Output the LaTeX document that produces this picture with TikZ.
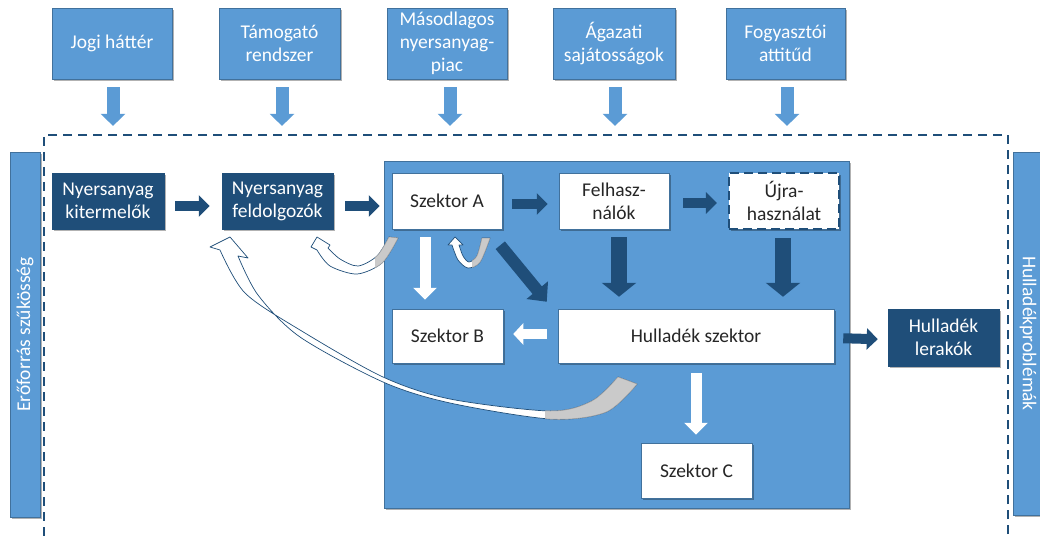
\documentclass[tikz,border=0pt]{standalone}
\usepackage{fontspec}
\setmainfont{Carlito}
\usetikzlibrary{arrows.meta,shadows}
\definecolor{midblue}{HTML}{5B9BD5}
\definecolor{edgeblue}{HTML}{41719C}
\definecolor{navy}{HTML}{1F4E79}
\definecolor{ribgray}{HTML}{CACACA}
\definecolor{txt}{HTML}{262626}
\begin{document}
\begin{tikzpicture}[x=1pt,y=-1pt,
  every node/.style={font=\fontsize{19.5}{23}\selectfont, align=center, inner sep=0pt},
  shad/.style={drop shadow={shadow xshift=2pt,shadow yshift=-2pt,opacity=0.3,fill=black}},
  topbox/.style={fill=midblue, draw=edgeblue, line width=0.8pt, text=white, minimum height=71, shad},
  darkbox/.style={fill=navy, draw=navy, line width=0.5pt, text=white, minimum width=111, minimum height=56, shad},
  whitebox/.style={fill=white, draw=edgeblue, line width=0.5pt, text=txt, minimum width=110, minimum height=55, shad},
  sidebar/.style={fill=midblue, draw=edgeblue, line width=0.6pt, text=white, minimum height=30, shad},
  frame/.style={draw=navy, line width=2.2pt, dash pattern=on 9pt off 6pt},
  toparr/.style={draw=midblue, line width=13pt, -{Triangle[width=24pt,length=12pt]}},
  darr/.style={draw=navy, line width=10pt, -{Triangle[width=21pt,length=11pt]}},
  vdarr/.style={draw=navy, line width=16pt, -{Triangle[width=34pt,length=14pt]}},
  warr/.style={draw=white, line width=11pt, -{Triangle[width=23pt,length=12pt]}},
  ribbon/.style={fill=white, draw=navy, line width=0.7pt, line join=round},
  ribback/.style={fill=ribgray, draw=gray!70, line width=0.5pt, line join=round}
]
\path[use as bounding box] (0,0) rectangle (1040,537);
\clip (0,0) rectangle (1040,537);

% dashed frame
\node[frame, minimum width=964, minimum height=440] (frame) at (526,355) {};

% side bars
\node[sidebar, minimum width=365, rotate=90] (eroforras) at (25,334.5) {Erőforrás szűkösség};
\node[sidebar, minimum width=363, rotate=-90] (hullprob) at (1028,333.5) {Hulladékproblémák};

% top boxes
\node[topbox, minimum width=120] (jogi) at (112,43.5) {Jogi háttér};
\node[topbox, minimum width=121] (tam) at (279.5,43.5) {Támogató\\rendszer};
\node[topbox, minimum width=120] (mas) at (447,43.5) {Másodlagos\\nyersanyag-\\piac};
\node[topbox, minimum width=122] (agaz) at (614,43.5) {Ágazati\\sajátosságok};
\node[topbox, minimum width=119] (fogy) at (785.5,43.5) {Fogyasztói\\attitűd};

% top arrows
\draw[toparr, shorten <=8, shorten >=8] ([shift={(1,0)}]jogi.south) -- ([shift={(1,0)}]jogi.south |- frame.north);
\draw[toparr, shorten <=8, shorten >=8] ([shift={(2.5,0)}]tam.south) -- ([shift={(2.5,0)}]tam.south |- frame.north);
\draw[toparr, shorten <=8, shorten >=8] ([shift={(3,0)}]mas.south) -- ([shift={(3,0)}]mas.south |- frame.north);
\draw[toparr, shorten <=8, shorten >=8] ([shift={(1,0)}]agaz.south) -- ([shift={(1,0)}]agaz.south |- frame.north);
\draw[toparr, shorten <=8, shorten >=8] ([shift={(1.5,0)}]fogy.south) -- ([shift={(1.5,0)}]fogy.south |- frame.north);

% sector area
\node[fill=midblue, draw=edgeblue, line width=0.6pt, minimum width=465, minimum height=347, shad] (area) at (616.5,334.5) {};

% boxes
\node[darkbox, minimum width=112] (kit) at (108,201) {Nyersanyag\\kitermelők};
\node[darkbox] (feld) at (277.5,201) {Nyersanyag\\feldolgozók};
\node[whitebox, minimum height=56] (szA) at (447,201) {Szektor A};
\node[whitebox, minimum height=56] (felh) at (614,201) {Felhasz-\\nálók};
\node[whitebox, minimum height=56, draw=navy, line width=2.2pt, dash pattern=on 9pt off 5pt] (ujra) at (784,201) {Újra-\\használat};
\node[whitebox, minimum width=111, minimum height=54] (szB) at (447.5,336) {Szektor B};
\node[whitebox, minimum width=276, minimum height=54] (hull) at (696,336) {Hulladék szektor};
\node[darkbox, minimum height=57] (lerak) at (943.5,337.5) {Hulladék\\lerakók};
\node[whitebox, minimum width=111] (szC) at (696.5,470.5) {Szektor C};

% dark arrows
\draw[darr, shorten <=11, shorten >=12] ([shift={(0,5)}]kit.east) -- ([shift={(0,5)}]feld.west);
\draw[darr, shorten <=12, shorten >=12] ([shift={(0,5)}]feld.east) -- ([shift={(0,5)}]szA.west);
\draw[darr, shorten <=10, shorten >=11] ([shift={(0,3)}]szA.east) -- ([shift={(0,3)}]felh.west);
\draw[darr, shorten <=14, shorten >=11] ([shift={(0,2)}]felh.east) -- ([shift={(0,2)}]ujra.west);
\draw[darr, shorten <=9, shorten >=10] ([shift={(0,2)}]hull.east) -- ([shift={(0,2)}]lerak.west);
\draw[vdarr, shorten <=8, shorten >=12] ([shift={(5,0)}]felh.south) -- ([shift={(5,0)}]felh.south |- hull.north);
\draw[vdarr, shorten <=8, shorten >=12] ([shift={(-1,0)}]ujra.south) -- ([shift={(-1,0)}]ujra.south |- hull.north);
\draw[darr, line width=12pt, -{Triangle[width=27pt,length=15pt]}] ([shift={(-2,16)}]szA.south east) -- ([shift={(-11,-7)}]hull.north west);

% white arrows
\draw[warr, shorten <=8, shorten >=9] ([shift={(-22,0)}]szA.south) -- ([shift={(-22,0)}]szA.south |- szB.north);
\draw[warr, line width=10pt, -{Triangle[width=21pt,length=10pt]}, shorten <=11, shorten >=10] ([shift={(0,-2)}]hull.west) -- ([shift={(0,-2)}]szB.east);
\draw[warr, shorten <=10, shorten >=8] (hull.south) -- (hull.south |- szC.north);

% curved ribbon arrow 1 (Szektor A -> feldolgozók)
\def\ribA{plot[smooth] coordinates {(389,237) (377,256) (358,266) (340,259) (328,248)} -- (330,245) -- (317,237) -- (311,247) -- (317,250) -- plot[smooth] coordinates {(317,250) (330,266) (357,274) (382,263) (398,238)} -- cycle}
\fill[ribbon] \ribA;
\begin{scope}
\clip (375,230) rectangle (405,280);
\fill[ribback] \ribA;
\end{scope}

% curved ribbon arrow 2 (small loop under Szektor A)
\def\ribB{plot[smooth] coordinates {(482,238) (477,256) (469,262) (463,256) (459,245)} -- (463,245) -- (455,237) -- (448,245) -- (452,245) -- plot[smooth] coordinates {(452,245) (458,260) (468,268) (480,262) (490,238)} -- cycle}
\fill[ribbon] \ribB;
\begin{scope}
\clip (472,230) rectangle (500,280);
\fill[ribback] \ribB;
\end{scope}

% curved ribbon arrow 3 (Hulladék szektor -> feldolgozók)
\def\ribC{plot[smooth] coordinates {(618,377) (592,401) (550,411) (450,399) (383,377) (300,330) (245,293) (220,250)} -- (210,247) -- (230,237) -- (248,258) -- (238,256) -- plot[smooth] coordinates {(238,256) (258,295) (300,337) (383,382) (450,403) (550,419) (606,412) (637,384)} -- cycle}
\fill[ribbon] \ribC;
\begin{scope}
\clip (545,370) rectangle (650,430);
\fill[ribback] \ribC;
\end{scope}
\end{tikzpicture}
\end{document}
